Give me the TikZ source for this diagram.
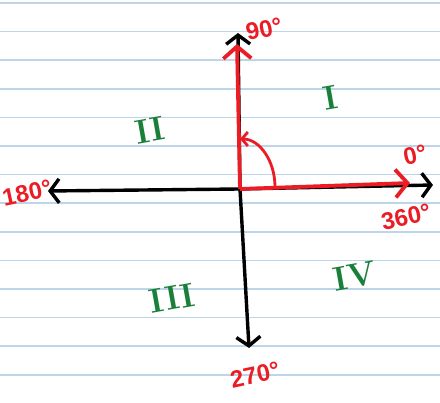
\documentclass[tikz,border=0pt]{standalone}
\usepackage{fontspec}
\usepackage{tikz}
\usetikzlibrary{arrows.meta, positioning}
\newfontfamily\handfont{Liberation Sans}
\definecolor{penred}{RGB}{236,28,36}
\definecolor{pengreen}{RGB}{25,128,58}
\definecolor{paperblue}{RGB}{188,213,232}

\begin{document}
\begin{tikzpicture}[
    x=1pt, y=1pt,
    ruling/.style={paperblue, line width=1.6pt},
    axis/.style={black, line width=3.4pt, -{Straight Barb[length=9pt, width=24pt]}},
    ray/.style={penred, line width=3.8pt, -{Straight Barb[length=12pt, width=28pt]}},
    turn/.style={penred, line width=2.8pt, -{Straight Barb[length=6pt, width=14pt]}},
    degree/.style={text=penred, inner sep=0pt, rotate=12, font=\handfont\bfseries\fontsize{24}{24}\selectfont},
    quadrant/.style={text=pengreen, inner sep=0pt, rotate=10, font=\bfseries\fontsize{34}{34}\selectfont}
]
    \fill[white] (0,0) rectangle (440,403);
    \useasboundingbox (0,0) rectangle (440,403);
    \foreach \k in {0,...,13}
        \draw[ruling] (0,400-28.6*\k) -- (440,400-28.6*\k);

    \coordinate (origin) at (240,214);
    \coordinate (east) at (433,218);
    \coordinate (west) at (48,212);
    \coordinate (north) at (238,370);
    \coordinate (south) at (249,55);
    \coordinate (zerotip) at (410,220);
    \coordinate (ninetytip) at (237,359);
    \coordinate (arcstart) at (275,216);

    \draw[axis] (origin) -- (east);
    \draw[axis] (origin) -- (west);
    \draw[axis] (origin) -- (north);
    \draw[axis] (origin) -- (south);
    \draw[ray] (origin) -- (zerotip);
    \draw[ray] (origin) -- (ninetytip);
    \draw[turn] (arcstart) arc[start angle=0, end angle=90, x radius=35, y radius=48];

    \node[degree] (ninety) at (264,374) {90°};
    \node[degree] (zero) at (415,248) {0°};
    \node[degree] (full) at (406,186) {360°};
    \node[degree] (half) at (27,210) {180°};
    \node[degree] (threequarter) at (255,28) {270°};

    \node[quadrant] (first) at (330,305) {I};
    \node[quadrant] (second) at (150,273) {II};
    \node[quadrant] (third) at (172,105) {III};
    \node[quadrant] (fourth) at (355,127) {IV};
\end{tikzpicture}
\end{document}
